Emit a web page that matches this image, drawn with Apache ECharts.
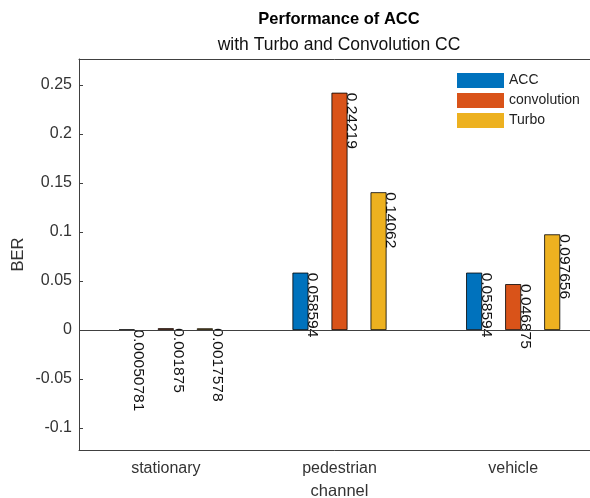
<!DOCTYPE html>
<html>
<head>
<meta charset="utf-8">
<script src="https://cdn.jsdelivr.net/npm/echarts@6/dist/echarts.min.js"></script>
<style>html,body{margin:0;padding:0;background:#fff;}#c{width:590px;height:498px;}</style>
</head>
<body>
<div id="c"></div>
<script>
const categories = ['stationary', 'pedestrian', 'vehicle'];
const seriesNames = ['ACC', 'convolution', 'Turbo'];
const accValues = [0.00050781, 0.058594, 0.058594];
const convolutionValues = [0.001875, 0.24219, 0.046875];
const turboValues = [0.0017578, 0.14062, 0.097656];
const yTickLabels = ['-0.1', '-0.05', '0', '0.05', '0.1', '0.15', '0.2', '0.25'];

const colors = ['#0072BD', '#D95319', '#EDB120'];
const FONT = '"Liberation Sans", Arial, sans-serif';
const seriesValues = [accValues, convolutionValues, turboValues];

const chart = echarts.init(document.getElementById('c'));

const series = seriesValues.map((vals, i) => ({
  name: seriesNames[i],
  type: 'bar',
  data: vals,
  barWidth: 16,
  barGap: '144%',
  itemStyle: { color: colors[i], borderColor: '#000', borderWidth: 0.8 },
  label: {
    show: true,
    position: [20, 0],
    rotate: -90,
    align: 'left',
    verticalAlign: 'middle',
    color: '#111',
    fontFamily: FONT,
    fontSize: 15.5,
    formatter: p => String(p.value)
  },
  labelLayout: { hideOverlap: false },
  animation: false
}));

series[0].markLine = {
  silent: true,
  symbol: 'none',
  label: { show: false },
  lineStyle: { color: '#404040', width: 1, type: 'solid' },
  data: [{ yAxis: 0 }],
  animation: false
};

chart.setOption({
  animation: false,
  title: {
    text: 'Performance of ACC',
    subtext: 'with Turbo and Convolution CC',
    left: 339,
    textAlign: 'center',
    top: 11,
    padding: 0,
    itemGap: 8,
    textStyle: { fontFamily: FONT, fontSize: 16.5, fontWeight: 'bold', color: '#000' },
    subtextStyle: { fontFamily: FONT, fontSize: 17.5, color: '#111' }
  },
  legend: {
    data: seriesNames,
    orient: 'vertical',
    left: 457,
    top: 73,
    padding: 0,
    itemWidth: 47,
    itemHeight: 15,
    itemGap: 5,
    icon: 'rect',
    itemStyle: { borderWidth: 0 },
    textStyle: { fontFamily: FONT, fontSize: 14, color: '#222' }
  },
  grid: { left: 79, top: 59, width: 521, height: 391, outerBoundsMode: 'none', containLabel: false },
  xAxis: [{
    type: 'category',
    data: categories,
    name: 'channel',
    nameLocation: 'middle',
    nameGap: 33,
    nameMoveOverlap: false,
    nameTextStyle: { fontFamily: FONT, fontSize: 16.5, color: '#333' },
    axisLine: { onZero: false, lineStyle: { color: '#404040', width: 1 } },
    axisTick: { alignWithLabel: true, inside: true, length: 4, lineStyle: { color: '#404040' } },
    axisLabel: { fontFamily: FONT, fontSize: 16, color: '#333', margin: 11 },
    splitLine: { show: false }
  }, {
    type: 'category',
    data: categories,
    position: 'top',
    axisLine: { onZero: false, lineStyle: { color: '#404040', width: 1 } },
    axisTick: { alignWithLabel: true, inside: true, length: 4, lineStyle: { color: '#404040' } },
    axisLabel: { show: false },
    splitLine: { show: false }
  }],
  yAxis: {
    type: 'value',
    min: -0.1224,
    max: 0.2766,
    splitNumber: 8,
    name: 'BER',
    nameLocation: 'middle',
    nameGap: 52,
    nameMoveOverlap: false,
    nameTextStyle: { fontFamily: FONT, fontSize: 16.5, color: '#333' },
    axisLine: { show: true, lineStyle: { color: '#404040', width: 1 } },
    axisTick: { show: true, inside: true, length: 4, lineStyle: { color: '#404040' } },
    axisLabel: {
      fontFamily: FONT, fontSize: 16, color: '#333', margin: 7,
      showMinLabel: false, showMaxLabel: false,
      formatter: v => {
        const s = String(Math.round(v * 100) / 100);
        return yTickLabels.includes(s) ? s : '';
      }
    },
    splitLine: { show: false }
  },
  series: series
});
</script>
</body>
</html>
